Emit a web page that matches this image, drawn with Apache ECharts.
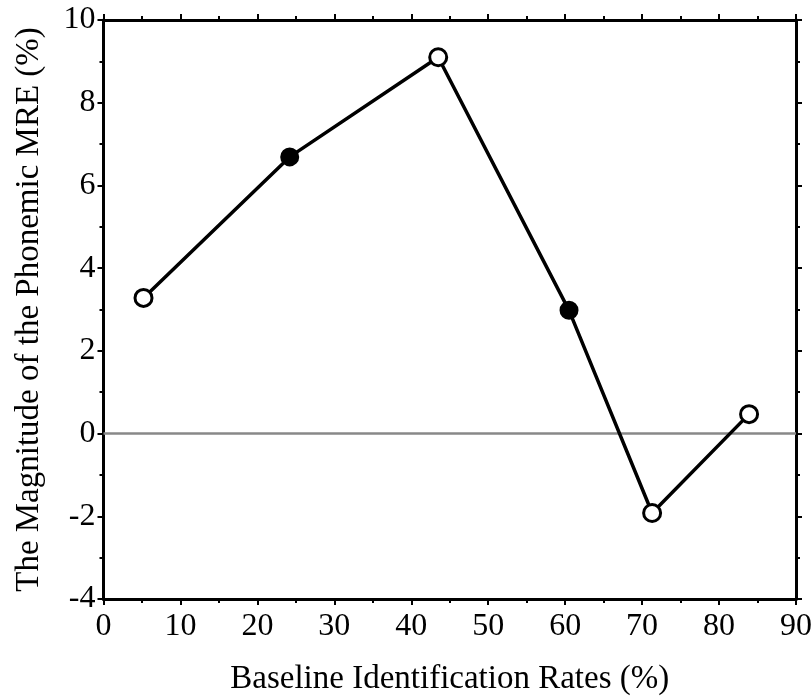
<!DOCTYPE html>
<html>
<head>
<meta charset="utf-8">
<script src="https://cdn.jsdelivr.net/npm/echarts@6/dist/echarts.min.js"></script>
<style>
html, body { margin: 0; padding: 0; background: #fff; }
#chart { width: 812px; height: 698px; }
</style>
</head>
<body>
<div id="chart"></div>
<script>
// baseline identification rate (%) vs magnitude of phonemic MRE (%)
var baseline = [5.2, 24.2, 43.5, 60.5, 71.3, 83.9];
var mre = [3.28, 6.69, 9.1, 2.98, -1.92, 0.47];
var filled = [false, true, false, true, false, false];

(function() {
    "use strict";
    var chart = echarts.init(document.getElementById('chart'));
    var font = 'Liberation Serif';

    var pts = baseline.map(function(x, i) {
        return {
            value: [x, mre[i]],
            itemStyle: filled[i]
                ? { color: '#000', borderColor: '#000', borderWidth: 2 }
                : { color: '#fff', borderColor: '#000', borderWidth: 3 }
        };
    });

    function axis(extra) {
        return Object.assign({
            type: 'value',
            axisLine: { show: true, onZero: false, lineStyle: { color: '#000', width: 3 } },
            axisTick: { show: true, length: 6, lineStyle: { color: '#000', width: 2 } },
            minorTick: { show: true, splitNumber: 2, length: 4, lineStyle: { color: '#000', width: 2 } },
            splitLine: { show: false }
        }, extra);
    }

    var option = {
        animation: false,
        grid: { left: 103.5, right: 16, top: 20, bottom: 99, outerBoundsMode: 'none', containLabel: false },
        xAxis: [
            axis({
                min: 0, max: 90, interval: 10,
                position: 'bottom',
                name: 'Baseline Identification Rates (%)',
                nameLocation: 'middle',
                nameGap: 64,
                nameTextStyle: { fontFamily: font, fontSize: 33, color: '#000' },
                axisLabel: { fontFamily: font, fontSize: 32, color: '#000', margin: 12 }
            }),
            axis({
                min: 0, max: 90, interval: 10,
                position: 'top',
                axisLabel: { show: false }
            })
        ],
        yAxis: [
            axis({
                min: -4, max: 10, interval: 2,
                position: 'left',
                name: 'The Magnitude of the Phonemic MRE (%)',
                nameLocation: 'middle',
                nameGap: 58,
                nameTextStyle: { fontFamily: font, fontSize: 33, color: '#000' },
                axisLabel: { fontFamily: font, fontSize: 32, color: '#000', margin: 8 }
            }),
            axis({
                min: -4, max: 10, interval: 2,
                position: 'right',
                axisLabel: { show: false }
            })
        ],
        series: [
            {
                type: 'line',
                data: pts,
                symbol: 'circle',
                symbolSize: 17,
                lineStyle: { color: '#000', width: 3.5 },
                z: 5,
                markLine: {
                    silent: true,
                    symbol: 'none',
                    label: { show: false },
                    lineStyle: { color: '#888', width: 2.5, type: 'solid' },
                    data: [{ yAxis: 0 }]
                }
            }
        ]
    };
    chart.setOption(option);
})();
</script>
</body>
</html>
